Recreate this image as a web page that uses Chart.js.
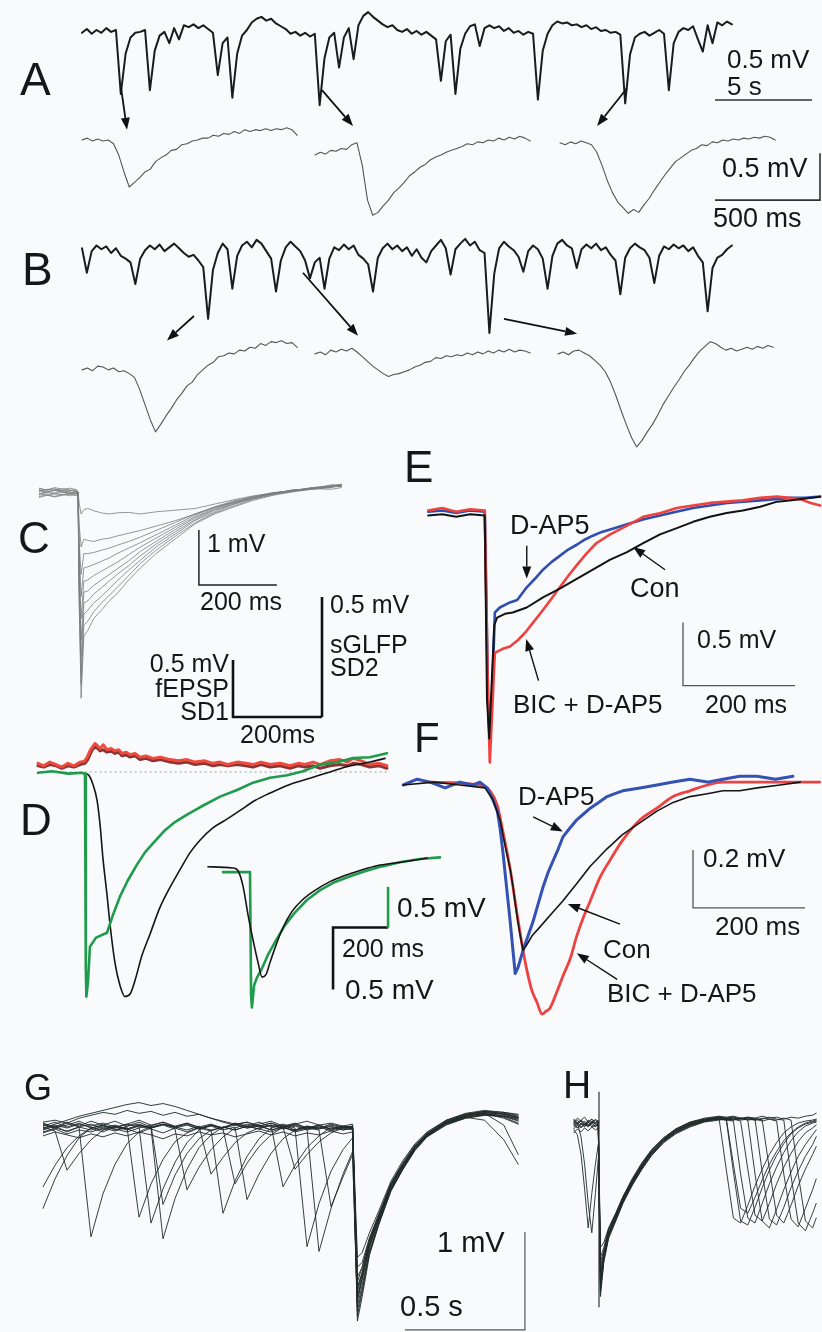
<!DOCTYPE html>
<html>
<head>
<meta charset="utf-8">
<script src="https://cdn.jsdelivr.net/npm/chart.js@4.4.1/dist/chart.umd.min.js"></script>
<style>
  html, body { margin: 0; padding: 0; background: #f8fafc; }
  #wrap { position: relative; width: 822px; height: 1332px; overflow: hidden; }
  #c { position: absolute; left: 0; top: 0; }
  .t { position: absolute; font-family: "Liberation Sans", Arial, sans-serif; color: #161616; line-height: 1; white-space: nowrap; }
</style>
</head>
<body>
<div id="wrap"><canvas id="c" width="822" height="1332"></canvas></div>
<script>
var W = 822, H = 1332;

// ---- A / B : long recordings (s, mV) sampled every 0.25 s ----
var topStep = 0.25;
var aTop = [-0.03,0.01,-0.04,0.00,-0.03,0.02,-0.02,0.00,
  -0.68,-0.25,-0.08,-0.03,-0.02,0.00,
  -0.64,-0.22,-0.06,-0.02,
  -0.14,0.02,-0.10,0.05,0.03,0.06,0.02,0.05,0.01,-0.03,
  -0.48,-0.14,-0.08,-0.72,-0.25,-0.06,0.00,0.08,0.12,0.14,0.10,0.12,0.07,0.04,0.01,-0.04,-0.02,-0.06,-0.03,-0.07,-0.04,
  -0.80,-0.30,-0.08,-0.03,-0.40,-0.08,0.02,-0.31,0.05,0.15,0.19,0.14,0.10,0.06,0.03,0.05,0.00,-0.02,0.01,-0.04,-0.01,-0.05,-0.02,-0.06,-0.10,
  -0.54,-0.12,-0.05,-0.68,-0.20,-0.04,0.04,0.06,-0.17,0.02,0.05,0.02,0.04,-0.01,0.02,-0.03,-0.01,-0.05,-0.02,-0.04,
  -0.74,-0.22,-0.04,0.05,0.09,0.07,0.08,0.05,0.06,0.03,0.05,0.01,0.03,-0.01,0.00,-0.03,-0.02,-0.05,
  -0.78,-0.26,-0.08,-0.04,-0.02,-0.06,-0.03,0.00,-0.04,
  -0.64,-0.14,-0.02,0.02,0.00,0.04,-0.10,-0.23,0.05,-0.14,0.08,0.05,0.09,0.06];
var bTop = [0.05,-0.21,0.02,0.08,0.04,0.07,0.00,0.05,-0.03,-0.06,-0.10,
  -0.33,-0.06,0.03,0.08,0.04,0.09,0.02,0.06,0.10,0.05,
  0.00,-0.04,-0.02,-0.08,-0.15,-0.70,-0.18,0.00,0.10,0.04,
  -0.38,-0.03,0.08,0.12,0.06,0.14,0.10,0.02,-0.06,-0.41,
  -0.08,0.06,0.12,0.07,0.02,-0.08,-0.27,-0.10,-0.05,-0.38,
  -0.06,0.06,0.03,0.09,0.04,0.08,-0.02,-0.06,-0.12,-0.41,
  -0.05,0.05,0.10,0.04,0.08,0.02,0.06,-0.03,0.04,-0.05,
  -0.10,0.02,0.08,0.14,0.05,-0.23,0.04,0.10,0.15,0.08,
  0.12,0.03,0.00,-0.85,-0.22,0.05,0.12,0.07,0.03,-0.04,
  -0.20,0.02,0.08,0.04,-0.06,-0.38,-0.03,0.10,0.14,0.08,
  0.05,-0.16,0.04,0.09,0.05,0.10,0.03,0.06,-0.02,-0.08,
  -0.44,-0.05,0.05,0.10,0.06,0.03,-0.05,-0.32,-0.03,0.07,
  0.04,0.09,0.05,0.08,0.02,0.06,-0.03,-0.10,-0.62,-0.16,
  -0.05,-0.02,0.04,0.08];

// zoomed single events (ms, mV) sampled every 25 ms
var lowStep = 25;
var aLow1 = [0.00,0.02,-0.01,0.01,-0.01,0.00,-0.04,-0.16,-0.34,-0.50,-0.45,-0.40,-0.34,-0.31,-0.23,-0.19,-0.16,-0.11,-0.10,-0.05,-0.04,-0.01,0.00,0.02,0.02,0.05,0.04,0.07,0.06,0.09,0.07,0.11,0.09,0.11,0.10,0.12,0.10,0.12,0.11,0.13,0.11,0.05];
var aLow2 = [-0.16,-0.13,-0.15,-0.11,-0.12,-0.09,-0.10,-0.05,-0.03,-0.27,-0.64,-0.80,-0.77,-0.70,-0.64,-0.56,-0.51,-0.45,-0.38,-0.34,-0.29,-0.26,-0.21,-0.18,-0.16,-0.13,-0.11,-0.09,-0.07,-0.04,-0.05,-0.02,-0.03,0.00,-0.01,0.02,0.00,0.03,0.01,0.04,0.02,-0.01];
var aLow3 = [-0.03,-0.05,-0.02,-0.04,-0.01,-0.03,-0.05,-0.13,-0.27,-0.43,-0.56,-0.66,-0.72,-0.78,-0.74,-0.77,-0.69,-0.62,-0.53,-0.45,-0.37,-0.30,-0.23,-0.19,-0.15,-0.11,-0.09,-0.05,-0.06,-0.02,-0.03,0.00,-0.01,0.01,0.00,0.02,0.01,0.03,0.02,0.04,0.03,0.00];
var bLow1 = [-0.19,-0.17,-0.20,-0.15,-0.16,-0.19,-0.17,-0.21,-0.20,-0.23,-0.27,-0.40,-0.56,-0.72,-0.85,-0.77,-0.68,-0.60,-0.51,-0.44,-0.36,-0.32,-0.24,-0.19,-0.14,-0.11,-0.05,-0.04,-0.01,-0.02,0.02,0.01,0.05,0.04,0.09,0.07,0.11,0.10,0.12,0.09,0.10,0.05];
var bLow2 = [-0.02,0.00,-0.03,0.02,0.00,0.03,0.01,0.04,0.00,-0.05,-0.10,-0.15,-0.19,-0.23,-0.26,-0.24,-0.23,-0.21,-0.19,-0.16,-0.14,-0.11,-0.10,-0.06,-0.07,-0.04,-0.05,-0.03,-0.04,-0.01,-0.03,0.00,-0.02,0.01,-0.01,0.02,0.00,0.03,0.00,0.02,0.01,-0.01];
var bLow3 = [-0.02,0.00,-0.03,0.01,0.02,-0.01,-0.04,-0.09,-0.14,-0.21,-0.32,-0.46,-0.62,-0.77,-0.91,-1.01,-0.94,-0.85,-0.77,-0.67,-0.56,-0.47,-0.38,-0.30,-0.21,-0.14,-0.06,0.01,0.06,0.11,0.09,0.05,0.02,0.04,0.01,0.03,0.05,0.03,0.06,0.04,0.07,0.05];

// ---- C : evoked responses of growing size (ms, mV) ----
var cTime = [-100,-80,-60,-40,-20,-5,0,3,8,15,25,40,60,80,100,130,160,200,250,300,350,400,450,500,550,600,650,675];
var c01 = [0.03,-0.02,0.05,0.01,-0.03,0.02,0,-0.2,-0.40,-0.32,-0.30,-0.34,-0.38,-0.40,-0.38,-0.37,-0.40,-0.36,-0.33,-0.30,-0.22,-0.14,-0.07,-0.02,0.03,0.06,0.05,0.08];
var c02 = [-0.04,0.02,-0.02,0.03,0.00,-0.02,0,-0.6,-1.0,-0.86,-0.88,-0.90,-0.86,-0.84,-0.80,-0.75,-0.70,-0.62,-0.52,-0.40,-0.28,-0.18,-0.10,-0.03,0.02,0.05,0.08,0.12];
var c03 = [0.06,0.04,0.08,0.05,0.07,0.04,0,-0.9,-1.5,-1.12,-1.12,-1.10,-1.06,-1.02,-0.97,-0.90,-0.82,-0.70,-0.55,-0.40,-0.27,-0.16,-0.08,-0.01,0.02,0.08,0.11,0.10];
var c04 = [-0.08,-0.05,-0.09,-0.06,-0.04,-0.07,0,-1.1,-1.9,-1.38,-1.36,-1.32,-1.26,-1.20,-1.12,-1.02,-0.92,-0.78,-0.60,-0.42,-0.28,-0.18,-0.10,-0.02,0.03,0.07,0.09,0.14];
var c05 = [0.01,0.05,0.02,0.06,0.03,0.01,0,-1.3,-2.3,-1.62,-1.60,-1.52,-1.44,-1.36,-1.28,-1.14,-1.00,-0.84,-0.64,-0.45,-0.30,-0.19,-0.09,-0.03,0.04,0.06,0.13,0.12];
var c06 = [-0.10,-0.06,-0.08,-0.04,-0.07,-0.03,0,-1.5,-2.7,-1.82,-1.80,-1.70,-1.60,-1.50,-1.40,-1.25,-1.08,-0.90,-0.68,-0.47,-0.32,-0.20,-0.11,-0.02,0.02,0.08,0.10,0.11];
var c07 = [0.04,0.00,0.03,-0.01,0.02,0.05,0,-1.6,-3.0,-2.02,-1.98,-1.86,-1.74,-1.62,-1.50,-1.34,-1.16,-0.95,-0.72,-0.50,-0.33,-0.22,-0.10,-0.03,0.03,0.05,0.12,0.14];
var c08 = [-0.02,-0.06,-0.03,-0.05,-0.01,-0.04,0,-1.7,-3.3,-2.22,-2.15,-2.02,-1.90,-1.76,-1.62,-1.42,-1.24,-1.00,-0.76,-0.52,-0.36,-0.22,-0.12,-0.04,0.01,0.07,0.11,0.10];
var c09 = [0.07,0.03,0.06,0.02,0.04,0.01,0,-1.9,-3.5,-2.42,-2.35,-2.18,-2.02,-1.88,-1.74,-1.52,-1.30,-1.06,-0.80,-0.56,-0.38,-0.25,-0.13,-0.05,0.02,0.06,0.09,0.13];
var c10 = [-0.05,-0.01,-0.04,0.00,-0.03,-0.01,0,-2.0,-3.75,-2.62,-2.52,-2.30,-2.15,-1.98,-1.85,-1.60,-1.38,-1.12,-0.85,-0.58,-0.40,-0.27,-0.15,-0.06,0.00,0.05,0.10,0.12];

// ---- D : fEPSP (green), sGLFP (black), SD traces (red) ----
var dRedT = [-171,-150,-128,-105,-84,-62,-40,-18,0,10,18,27,36,46,55,66,80,95,109,122,135,150,164,182,200,222,247,275,309,340,371,400,436,465,491,520,553,585,611,640,673,710,745,775,800,830,855,890,927,955,975,1005,1036,1070,1098];
var dRed = [0.07,0.05,0.08,0.06,0.04,0.07,0.05,0.08,0.09,0.13,0.17,0.20,0.23,0.21,0.19,0.22,0.18,0.19,0.17,0.18,0.15,0.16,0.14,0.15,0.12,0.13,0.11,0.12,0.10,0.09,0.10,0.08,0.09,0.07,0.08,0.06,0.08,0.07,0.06,0.08,0.06,0.07,0.05,0.07,0.06,0.08,0.06,0.09,0.10,0.08,0.11,0.09,0.06,0.07,0.05];
var dRedDark = [0.05,0.04,0.06,0.05,0.03,0.05,0.04,0.06,0.07,0.10,0.14,0.18,0.20,0.19,0.17,0.18,0.16,0.17,0.15,0.16,0.13,0.14,0.12,0.13,0.10,0.11,0.09,0.10,0.08,0.07,0.08,0.06,0.07,0.05,0.06,0.05,0.06,0.05,0.04,0.06,0.04,0.05,0.03,0.05,0.04,0.05,0.03,0.05,0.06,0.05,0.07,0.06,0.04,0.05,0.03];
var dGreenT = [-171,-120,-60,-11,0,3,5,11,18,40,80,102,127,156,189,218,247,291,327,371,418,491,553,611,673,735,793,855,916,975,1036,1098];
var dGreen = [-0.01,0.01,-0.02,-0.01,-0.02,-2.40,-2.74,-2.55,-2.13,-2.02,-1.96,-1.74,-1.52,-1.32,-1.13,-0.98,-0.87,-0.71,-0.61,-0.52,-0.43,-0.30,-0.22,-0.13,-0.07,-0.04,0.01,0.09,0.12,0.17,0.18,0.23];
var dBlackT = [-11,11,29,44,55,65,80,91,109,127,145,164,182,207,236,273,309,345,382,418,465,509,564,618,673,745,818,891,964,1036,1091];
var dBlack = [-0.01,-0.02,-0.10,-0.23,-0.43,-0.69,-0.99,-1.23,-1.54,-1.72,-1.81,-1.79,-1.68,-1.48,-1.31,-1.09,-0.93,-0.79,-0.65,-0.55,-0.45,-0.39,-0.31,-0.23,-0.17,-0.10,-0.05,0.00,0.05,0.08,0.11];
var dInsetT = [-153,-62,-44,-25,-7,11,29,44,58,73,95,120,153,189,236,291,345,400,465,527,589,644];
var dInsetBlack = [0.01,0.00,-0.02,-0.15,-0.38,-0.58,-0.76,-0.88,-0.86,-0.76,-0.62,-0.48,-0.35,-0.26,-0.18,-0.11,-0.06,-0.02,0.02,0.04,0.06,0.08];
var dInsetGT = [-98,-7,0,4,7,15,25,44,65,95,127,164,207,255,309,364,418,480,545,618,691];
var dInsetGreen = [-0.05,-0.05,-0.05,-1.56,-1.70,-1.43,-1.34,-1.22,-1.06,-0.88,-0.70,-0.54,-0.39,-0.27,-0.17,-0.10,-0.04,0.02,0.07,0.11,0.13];

// ---- E : fEPSP, Con / D-AP5 / BIC + D-AP5 ----
var eRedT = [-105,-80,-55,-30,-4,2,5,11,14,27,41,55,68,84,100,115,130,145,161,178,195,220,250,279,310,339,368,398,428,457,488,518,540,559,578,595];
var eRed = [0.02,0.04,0.01,0.03,0.02,-1.49,-1.98,-1.40,-1.11,-1.08,-1.06,-1.01,-0.95,-0.86,-0.77,-0.68,-0.59,-0.50,-0.41,-0.32,-0.24,-0.17,-0.10,-0.03,0.00,0.04,0.06,0.08,0.09,0.10,0.12,0.13,0.12,0.11,0.08,0.06];
var eBlueT = [-105,-80,-55,-30,-4,2,5,9,14,23,41,54,71,86,100,115,130,145,161,175,189,205,220,250,280,309,338,368,398,429,458,488,515,541,568,595];
var eBlue = [0.01,0.02,0.00,0.02,0.01,-1.48,-1.84,-1.48,-0.79,-0.75,-0.71,-0.69,-0.59,-0.52,-0.45,-0.39,-0.34,-0.29,-0.25,-0.21,-0.18,-0.15,-0.13,-0.09,-0.05,-0.02,0.01,0.04,0.06,0.08,0.09,0.10,0.11,0.12,0.12,0.13];
var eConT = [-105,-80,-55,-30,-4,0,4,7,13,18,32,46,71,100,130,161,189,220,250,279,309,339,368,398,428,457,488,518,540,559,578,595];
var eCon = [-0.02,-0.01,-0.03,-0.01,-0.02,-1.48,-1.79,-1.48,-0.89,-0.83,-0.80,-0.79,-0.75,-0.67,-0.60,-0.52,-0.45,-0.37,-0.31,-0.24,-0.17,-0.12,-0.07,-0.03,0.00,0.02,0.05,0.09,0.10,0.11,0.12,0.13];

// ---- F : sGLFP, same three conditions ----
var fBlueT = [-155,-130,-107,-80,-54,-30,-18,-5,5,13,18,23,30,36,41,45,50,59,68,77,86,95,104,113,122,130,142,155,167,179,194,209,223,237,268,298,327,357,388,416,446,477,510,541];
var fBlue = [0.00,0.02,0.01,-0.01,0.01,0.00,0.01,-0.01,-0.05,-0.09,-0.15,-0.23,-0.36,-0.47,-0.57,-0.65,-0.63,-0.57,-0.52,-0.47,-0.41,-0.35,-0.30,-0.26,-0.22,-0.18,-0.15,-0.12,-0.10,-0.08,-0.06,-0.04,-0.03,-0.02,-0.01,0.00,0.01,0.02,0.01,0.02,0.03,0.03,0.02,0.03];
var fConT = [-155,-100,-54,-9,5,18,27,36,41,48,54,59,66,75,89,107,130,155,179,209,237,268,298,327,357,388,416,446,477,518,554];
var fCon = [0.00,0.01,0.00,-0.01,-0.05,-0.12,-0.21,-0.29,-0.35,-0.45,-0.52,-0.57,-0.55,-0.52,-0.49,-0.45,-0.40,-0.34,-0.28,-0.22,-0.17,-0.13,-0.09,-0.06,-0.04,-0.03,-0.02,-0.02,-0.01,0.00,0.01];
var fBicT = [-107,-18,0,13,23,36,48,59,66,75,84,93,100,107,120,130,143,155,166,179,196,214,237,268,298,327,357,388,416,477,536,589];
var fBic = [0.01,0.00,-0.02,-0.07,-0.16,-0.29,-0.44,-0.57,-0.64,-0.71,-0.75,-0.79,-0.78,-0.77,-0.71,-0.66,-0.60,-0.52,-0.46,-0.40,-0.32,-0.26,-0.19,-0.12,-0.08,-0.04,-0.02,0.00,0.01,0.01,0.01,0.01];

// ---- G : sweeps aligned on a large event (s, mV) ----
var tG = [-1.30,-1.25,-1.20,-1.15,-1.10,-1.05,-1.00,-0.95,-0.90,-0.85,-0.80,-0.75,-0.70,-0.65,-0.60,-0.55,-0.50,-0.45,-0.40,-0.35,-0.30,-0.25,-0.20,-0.15,-0.10,-0.05,-0.01,0.01,0.03,0.06,0.10,0.15,0.20,0.25,0.30,0.38,0.46,0.54,0.62,0.68];
var g01 = [-0.80,-0.50,-0.26,-0.08,0.02,0.05,0.00,0.04,0.08,0.03,0.06,0.02,-0.02,0.03,0.00,-0.85,-0.52,-0.27,-0.09,0.02,0.05,0.00,0.04,0.02,0.06,0.03,0.04,-1.75,-1.52,-1.20,-0.90,-0.58,-0.36,-0.18,-0.05,0.08,0.15,0.18,0.14,0.10];
var g02 = [0.05,0.02,0.07,0.03,-1.09,-0.65,-0.35,-0.14,-0.02,0.04,0.08,0.03,0.06,0.01,0.05,0.02,0.07,0.03,0.06,0.09,0.04,0.07,0.02,0.05,0.01,0.04,0.02,-1.95,-1.70,-1.28,-0.96,-0.62,-0.40,-0.20,-0.07,0.06,0.13,0.16,0.17,0.13];
var g03 = [0.00,0.04,-0.02,0.03,0.06,0.02,0.05,0.01,-0.03,0.02,-1.11,-0.70,-0.40,-0.18,-0.05,0.03,0.06,0.02,0.05,0.00,0.03,-0.02,0.01,-1.24,-0.80,-0.45,-0.22,-1.85,-1.62,-1.25,-0.95,-0.60,-0.38,-0.19,-0.06,0.07,0.14,0.17,0.12,0.06];
var g04 = [0.07,0.03,0.08,0.04,0.09,0.05,0.02,0.06,0.03,-0.95,-0.60,-0.33,-0.13,0.00,0.05,0.02,0.07,0.04,0.08,0.03,0.06,0.02,-1.19,-0.75,-0.42,-0.20,-0.08,-1.60,-1.45,-1.15,-0.88,-0.55,-0.35,-0.16,-0.04,0.09,0.16,0.19,0.16,0.12];
var g05 = [-0.03,0.01,-0.04,0.00,-0.02,0.02,-0.01,0.03,-0.89,-0.55,-0.30,-0.12,-0.03,0.02,-0.01,0.03,0.00,0.04,0.01,-0.02,0.02,0.05,0.01,0.04,0.00,0.03,0.01,-1.40,-1.35,-1.10,-0.85,-0.55,-0.34,-0.17,-0.05,0.07,0.13,0.15,0.14,0.09];
var g06 = [-0.58,-0.36,-0.18,-0.06,0.02,-0.02,0.03,0.00,0.04,0.01,-0.03,0.02,0.05,0.01,0.04,0.00,0.03,-0.71,-0.45,-0.24,-0.09,0.00,0.04,0.01,0.05,0.02,0.03,-1.70,-1.50,-1.18,-0.92,-0.60,-0.39,-0.20,-0.06,0.06,0.12,0.16,0.15,0.11];
var g07 = [0.04,0.08,0.03,0.07,0.02,0.05,0.09,0.04,0.06,0.02,0.05,0.01,-0.61,-0.38,-0.20,-0.07,0.02,0.06,0.03,0.05,-0.58,-0.36,-0.18,-0.06,0.03,0.00,0.02,-1.55,-1.40,-1.12,-0.86,-0.54,-0.33,-0.15,-0.03,0.10,0.17,0.20,0.18,0.15];
var g08 = [0.02,0.06,0.10,0.14,0.17,0.20,0.23,0.26,0.28,0.25,0.27,0.24,0.20,0.16,0.12,0.08,0.05,0.02,0.04,0.00,0.03,-0.01,0.02,0.00,-0.78,-0.48,-0.25,-1.80,-1.58,-1.24,-0.94,-0.61,-0.39,-0.19,-0.06,0.07,0.14,0.18,0.16,0.13];
var g09 = [0.03,-0.01,-0.41,-0.24,-0.10,0.00,0.04,0.01,0.05,0.02,0.06,0.03,0.07,0.02,0.05,0.01,-0.55,-0.34,-0.17,-0.05,0.03,0.06,0.02,0.05,0.01,0.04,0.02,-1.65,-1.48,-1.16,-0.90,-0.57,-0.36,-0.17,-0.04,0.08,0.15,0.17,0.13,0.07];
var g10 = [0.06,0.02,0.05,0.09,0.04,0.07,0.03,0.06,0.10,0.05,0.08,0.04,0.07,0.03,0.06,0.02,0.05,0.08,0.04,0.07,0.03,0.06,0.09,0.05,0.07,0.04,0.06,-1.30,-1.25,-1.05,-0.82,-0.52,-0.31,-0.14,-0.02,0.10,0.16,0.19,0.17,0.14];
var g11 = [-0.02,0.02,-0.01,0.03,0.00,0.04,0.01,-0.02,0.02,0.05,-0.76,-0.46,-0.24,-0.09,0.00,0.03,0.00,0.04,0.01,0.05,0.02,0.00,0.03,0.01,0.04,0.00,0.02,-1.90,-1.65,-1.26,-0.95,-0.62,-0.40,-0.21,-0.07,0.05,0.12,0.15,0.14,0.12];
var g12 = [0.01,0.05,0.02,0.06,0.03,0.00,0.04,0.01,0.05,0.02,0.06,0.03,0.00,0.04,-0.45,-0.28,-0.13,-0.03,0.02,0.05,0.01,0.04,0.00,0.03,-0.01,0.02,0.00,-1.72,-1.52,-1.20,-0.91,-0.59,-0.37,-0.18,-0.05,0.07,0.13,0.10,-0.10,-0.35];
var g13 = [-0.06,-0.02,-0.05,-0.08,-0.04,-0.07,-0.03,-0.06,-0.02,-0.05,-0.09,-0.04,-0.06,-0.02,-0.05,-0.03,-0.07,-0.04,-0.01,-0.05,-0.02,-0.06,-0.03,-0.05,-0.01,-0.04,-0.02,-1.50,-1.40,-1.12,-0.87,-0.56,-0.35,-0.17,-0.05,0.08,0.14,0.17,0.05,-0.25];
var g14 = [0.08,0.10,0.07,0.12,0.15,0.18,0.16,0.20,0.17,0.19,0.15,0.18,0.14,0.16,0.12,0.09,0.06,0.08,0.04,0.07,0.03,-0.40,-0.25,-0.12,-0.03,0.02,0.04,-1.62,-1.46,-1.14,-0.89,-0.57,-0.36,-0.17,-0.04,0.09,0.16,0.19,0.18,0.16];

// ---- H : sweeps aligned on the stimulus (s, mV) ----
var tH = [-0.105,-0.09,-0.075,-0.06,-0.045,-0.03,-0.015,-0.003,0.006,0.02,0.04,0.07,0.10,0.14,0.18,0.22,0.27,0.32,0.38,0.44,0.50,0.53,0.56,0.59,0.62,0.65,0.68,0.71,0.74,0.77,0.80,0.83,0.86,0.89,0.905];
var h01 = [0.02,-0.03,0.01,-0.02,0.03,0.00,-0.02,0.01,-1.70,-1.38,-1.14,-0.96,-0.78,-0.59,-0.43,-0.29,-0.16,-0.07,0.00,0.05,0.07,-0.45,-0.95,-1.00,-0.82,-0.62,-0.45,-0.30,-0.18,-0.08,-0.02,0.02,0.04,0.05,0.06];
var h02 = [0.04,0.00,0.05,0.02,-0.01,0.03,0.01,0.04,-1.55,-1.32,-1.10,-0.93,-0.75,-0.56,-0.40,-0.26,-0.14,-0.05,0.02,0.06,0.08,0.06,-0.48,-0.98,-1.02,-0.84,-0.64,-0.46,-0.31,-0.19,-0.09,-0.03,0.01,0.03,0.04];
var h03 = [-0.05,-0.10,-0.30,-0.65,-1.05,-0.70,-0.40,-0.20,-1.45,-1.30,-1.08,-0.92,-0.76,-0.57,-0.41,-0.27,-0.15,-0.06,0.01,0.04,0.06,0.05,0.04,-0.50,-0.95,-1.00,-0.80,-0.60,-0.43,-0.28,-0.16,-0.07,-0.01,0.02,0.03];
var h04 = [0.00,0.03,-0.02,0.02,-0.01,0.04,0.01,-0.01,-1.62,-1.36,-1.13,-0.97,-0.79,-0.60,-0.44,-0.30,-0.17,-0.08,-0.01,0.04,0.06,0.07,0.06,0.07,0.05,-0.50,-0.98,-1.05,-0.86,-0.66,-0.48,-0.32,-0.20,-0.10,-0.05];
var h05 = [0.06,0.02,0.05,0.08,0.03,0.06,0.02,0.05,-1.25,-1.20,-1.05,-0.90,-0.73,-0.55,-0.39,-0.25,-0.13,-0.04,0.03,0.07,0.09,0.08,0.09,0.07,0.08,0.06,-0.48,-0.96,-1.02,-0.84,-0.64,-0.47,-0.32,-0.20,-0.12];
var h06 = [-0.08,-0.04,-0.07,-0.03,-0.06,-0.02,-0.05,-0.03,-1.75,-1.40,-1.16,-0.98,-0.80,-0.61,-0.45,-0.31,-0.18,-0.09,-0.02,0.03,0.05,0.06,0.05,0.07,0.06,0.05,0.07,0.06,0.04,-0.50,-0.96,-1.04,-0.85,-0.66,-0.55];
var h07 = [0.03,0.07,0.04,0.00,0.05,0.02,0.06,0.03,-1.50,-1.33,-1.11,-0.94,-0.76,-0.57,-0.42,-0.28,-0.15,-0.06,0.01,0.05,0.08,0.07,0.08,0.06,0.07,0.05,0.06,0.08,0.06,0.05,-0.52,-1.00,-1.08,-0.90,-0.80];
var h08 = [-0.02,0.02,-0.12,-0.40,-0.80,-1.10,-0.70,-0.35,-1.60,-1.35,-1.12,-0.95,-0.77,-0.58,-0.42,-0.28,-0.16,-0.07,0.00,0.04,0.06,0.05,0.06,0.04,-0.45,-0.92,-0.98,-0.80,-0.60,-0.43,-0.29,-0.17,-0.08,-0.03,0.00];
var h09 = [0.01,-0.03,0.02,-0.01,0.03,-0.02,0.00,0.02,-1.40,-1.28,-1.07,-0.91,-0.74,-0.56,-0.40,-0.26,-0.14,-0.05,0.02,0.06,0.08,0.07,0.08,0.06,0.08,0.07,0.09,0.07,0.08,0.06,0.08,0.07,0.09,0.10,0.12];
var h10 = [0.05,0.01,0.04,0.00,0.03,0.06,0.02,0.04,-1.68,-1.37,-1.13,-0.96,-0.78,-0.60,-0.44,-0.30,-0.17,-0.08,-0.01,0.04,0.06,0.06,0.05,0.07,0.05,0.06,0.04,0.06,0.05,0.07,0.05,-0.50,-0.98,-1.05,-0.95];
var h11 = [-0.04,0.00,-0.03,0.01,-0.02,0.02,-0.01,0.00,-1.35,-1.25,-1.06,-0.90,-0.73,-0.54,-0.38,-0.25,-0.13,-0.04,0.03,0.06,0.08,0.07,-0.40,-0.85,-0.90,-0.74,-0.56,-0.40,-0.27,-0.16,-0.08,-0.02,0.02,0.04,0.05];
var h12 = [0.02,0.05,0.01,0.04,0.00,0.03,0.05,0.02,-1.58,-1.34,-1.11,-0.94,-0.77,-0.58,-0.42,-0.28,-0.15,-0.06,0.01,0.05,0.07,0.06,0.07,0.05,0.06,0.07,0.05,-0.45,-0.92,-1.00,-0.82,-0.62,-0.45,-0.30,-0.22];

// ---- layout: each axis = [direction, pixel of the zero value, pixels per unit] ----
var AXES = {
  xAt: ['x', 82, 19.4],  yAt: ['y', 30, 94],
  xA1: ['x', 82, 0.21],  xA2: ['x', 315, 0.21], xA3: ['x', 560, 0.21], yAl: ['y', 140, 94],
  xBt: ['x', 82, 19.4],  yBt: ['y', 253, 94],
  xB1: ['x', 82, 0.21],  xB2: ['x', 315, 0.21], xB3: ['x', 558, 0.21], yBl: ['y', 352, 94],
  xC:  ['x', 78, 0.39],  yC:  ['y', 492, 55],
  xS:  ['x', 233, 0.445], yS1: ['y', 717, 114], yS2: ['y', 717, 240],
  xD:  ['x', 85, 0.275], yD:  ['y', 772, 124], yDG: ['y', 772, 82],
  xDi: ['x', 250, 0.275], yDi: ['y', 868, 124], yDiG: ['y', 868, 82],
  xE:  ['x', 487, 0.56], yE:  ['y', 513, 126],
  xF:  ['x', 490, 0.56], yF:  ['y', 785, 290],
  xG:  ['x', 355, 240],  yG:  ['y', 1130, 98],
  xH:  ['x', 599, 240],  yH:  ['y', 1125, 98]
};

// scale bars, in the units of the axes they sit on
var BARS = [
  { x: 'xAt', y: 'yAt', t: [32.63, 37.63], v: [-0.745, -0.745], c: '#333', w: 1.6 },
  { x: 'xA3', y: 'yAl', t: [738, 1238, 1238], v: [-0.64, -0.64, -0.14], c: '#333', w: 1.6 },
  { x: 'xC', y: 'yC', t: [310, 310, 510], v: [-0.69, -1.69, -1.69], c: '#222', w: 1.5 },
  { x: 'xS', y: 'yS1', t: [0, 0, 200], v: [0.5, 0, 0], c: '#111', w: 2.6 },
  { x: 'xS', y: 'yS2', t: [200, 200], v: [0, 0.5], c: '#111', w: 2.6 },
  { x: 'xDi', y: 'yDi', t: [302, 302, 502], v: [-0.98, -0.48, -0.48], c: '#111', w: 2.6 },
  { x: 'xDi', y: 'yDiG', t: [502, 502], v: [-0.73, -0.23], c: '#1f9b4c', w: 2.6 },
  { x: 'xE', y: 'yE', t: [350, 350, 550], v: [-0.87, -1.37, -1.37], c: '#555', w: 1.3 },
  { x: 'xF', y: 'yF', t: [362.5, 362.5, 562.5], v: [-0.224, -0.424, -0.424], c: '#555', w: 1.3 },
  { x: 'xG', y: 'yG', t: [0.208, 0.708, 0.708], v: [-2.04, -2.04, -1.04], c: '#555', w: 1.2 },
  { x: 'xH', y: 'yH', t: [0, 0], v: [0.34, -1.86], c: '#333', w: 1.2 }
];

var ARROWS = [
  { x: 'xAt', y: 'yAt', from: [2.01, -0.61], to: [2.32, -1.06], w: 1.8 },
  { x: 'xAt', y: 'yAt', from: [12.37, -0.64], to: [13.97, -1.02], w: 1.8 },
  { x: 'xAt', y: 'yAt', from: [28.09, -0.62], to: [26.55, -1.02], w: 1.8 },
  { x: 'xBt', y: 'yBt', from: [5.77, -0.67], to: [4.38, -0.93], w: 1.8 },
  { x: 'xBt', y: 'yBt', from: [11.39, -0.21], to: [14.23, -0.88], w: 1.8 },
  { x: 'xBt', y: 'yBt', from: [21.75, -0.70], to: [25.52, -0.86], w: 1.8 },
  { x: 'xE', y: 'yE', from: [71, -0.26], to: [71, -0.52], w: 1.4 },
  { x: 'xE', y: 'yE', from: [318, -0.45], to: [261, -0.27], w: 1.4 },
  { x: 'xE', y: 'yE', from: [92, -1.33], to: [70, -1.00], w: 1.4 },
  { x: 'xF', y: 'yF', from: [77, -0.11], to: [130, -0.16], w: 1.4 },
  { x: 'xF', y: 'yF', from: [232, -0.48], to: [139, -0.41], w: 1.4 },
  { x: 'xF', y: 'yF', from: [227, -0.67], to: [155, -0.58], w: 1.4 }
];

// [text, x, baseline, size, align]
var LABELS = [
  ['A', 20, 95, 46], ['0.5 mV', 727, 68, 26], ['5 s', 727, 95, 26], ['0.5 mV', 722, 178, 27], ['500 ms', 713, 228, 27],
  ['B', 22, 285, 46],
  ['C', 18, 553, 44], ['1 mV', 207, 552, 25], ['200 ms', 200, 610, 25],
  ['0.5 mV', 229, 672, 25, 'r'], ['fEPSP', 229, 697, 25, 'r'], ['SD1', 229, 720, 25, 'r'], ['200ms', 240, 743, 25],
  ['0.5 mV', 330, 613, 25], ['sGLFP', 330, 653, 25], ['SD2', 330, 676, 25],
  ['D', 20, 835, 44], ['0.5 mV', 397, 918, 28], ['200 ms', 342, 957, 25], ['0.5 mV', 345, 1000, 28],
  ['E', 404, 482, 44], ['D-AP5', 510, 535, 27], ['Con', 630, 598, 27], ['BIC + D-AP5', 513, 713, 26], ['0.5 mV', 697, 648, 25], ['200 ms', 705, 713, 25],
  ['F', 414, 753, 42], ['D-AP5', 518, 805, 26], ['Con', 603, 958, 26], ['BIC + D-AP5', 607, 1002, 26], ['0.2 mV', 703, 867, 26], ['200 ms', 715, 935, 26],
  ['G', 24, 1100, 36], ['1 mV', 437, 1253, 29], ['0.5 s', 400, 1317, 29],
  ['H', 563, 1098, 39]
];

function grid(n, dt) {
  var out = [];
  for (var i = 0; i < n; i++) out.push(i * dt);
  return out;
}

function series(xid, yid, t, v, color, width, extra) {
  var ds = {
    data: t.map(function (x, i) { return { x: x, y: v[i] }; }),
    xAxisID: xid, yAxisID: yid,
    borderColor: color, borderWidth: width,
    pointRadius: 0, fill: false, tension: 0, clip: false,
    borderJoinStyle: 'round', borderCapStyle: 'round'
  };
  return Object.assign(ds, extra || {});
}

var scales = {};
Object.keys(AXES).forEach(function (id) {
  var a = AXES[id], o = a[1], k = a[2];
  if (a[0] === 'x') {
    scales[id] = { type: 'linear', axis: 'x', position: 'bottom', display: false, bounds: 'data', min: -o / k, max: (W - o) / k };
  } else {
    scales[id] = { type: 'linear', axis: 'y', position: 'left', display: false, bounds: 'data', min: (o - H) / k, max: o / k };
  }
});

// datasets listed bottom to top
var ds = [];
var ink = '#1b1b1b', grey = '#555', gInk = '#1f2a26';
var tTop = grid(aTop.length, topStep), tLow = grid(42, lowStep);

ds.push(series('xAt', 'yAt', tTop, aTop, ink, 2));
ds.push(series('xA1', 'yAl', tLow, aLow1, grey, 1.1));
ds.push(series('xA2', 'yAl', tLow, aLow2, grey, 1.1));
ds.push(series('xA3', 'yAl', tLow, aLow3, grey, 1.1));
ds.push(series('xBt', 'yBt', grid(bTop.length, topStep), bTop, ink, 2));
ds.push(series('xB1', 'yBl', tLow, bLow1, grey, 1.1));
ds.push(series('xB2', 'yBl', tLow, bLow2, grey, 1.1));
ds.push(series('xB3', 'yBl', tLow, bLow3, grey, 1.1));

[c01, c02, c03, c04, c05, c06, c07, c08, c09, c10].forEach(function (c) {
  ds.push(series('xC', 'yC', cTime, c, '#7c7c7c', 0.8));
});

ds.push(series('xD', 'yD', [-165, 1100], [0, 0], '#a0a0a0', 1.2, { borderDash: [2, 3], borderCapStyle: 'butt' }));
ds.push(series('xD', 'yD', dRedT, dRedDark, '#8a3434', 3));
ds.push(series('xD', 'yD', dRedT, dRed, '#f04a3e', 3));
ds.push(series('xD', 'yD', dBlackT, dBlack, '#151515', 1.6, { cubicInterpolationMode: 'monotone' }));
ds.push(series('xD', 'yDG', dGreenT, dGreen, '#1f9b4c', 2.6));
ds.push(series('xDi', 'yDiG', dInsetGT, dInsetGreen, '#1f9b4c', 2.6));
ds.push(series('xDi', 'yDi', dInsetT, dInsetBlack, '#151515', 1.6, { cubicInterpolationMode: 'monotone' }));

ds.push(series('xE', 'yE', eBlueT, eBlue, '#2f4fb0', 2.6));
ds.push(series('xE', 'yE', eRedT, eRed, '#f0413f', 2.6));
ds.push(series('xE', 'yE', eConT, eCon, '#121212', 2));

ds.push(series('xF', 'yF', fBicT, fBic, '#ee4242', 2.8, { cubicInterpolationMode: 'monotone' }));
ds.push(series('xF', 'yF', fBlueT, fBlue, '#3452b3', 3));
ds.push(series('xF', 'yF', fConT, fCon, '#151515', 1.6));

[g01, g02, g03, g04, g05, g06, g07, g08, g09, g10, g11, g12, g13, g14].forEach(function (g) {
  ds.push(series('xG', 'yG', tG, g, gInk, 0.9));
});
[h01, h02, h03, h04, h05, h06, h07, h08, h09, h10, h11, h12].forEach(function (h) {
  ds.push(series('xH', 'yH', tH, h, gInk, 0.9));
});

BARS.forEach(function (b) {
  ds.push(series(b.x, b.y, b.t, b.v, b.c, b.w, { borderCapStyle: 'butt', borderJoinStyle: 'miter' }));
});

// Chart.js paints dataset 0 last, so flip to keep the order above
ds.reverse();

var arrowPlugin = {
  id: 'arrows',
  afterDatasetsDraw: function (chart) {
    var ctx = chart.ctx;
    ARROWS.forEach(function (a) {
      var sx = chart.scales[a.x], sy = chart.scales[a.y];
      var x1 = sx.getPixelForValue(a.from[0]), y1 = sy.getPixelForValue(a.from[1]);
      var x2 = sx.getPixelForValue(a.to[0]), y2 = sy.getPixelForValue(a.to[1]);
      var ang = Math.atan2(y2 - y1, x2 - x1), head = 12, half = 4.5;
      var bx = x2 - head * Math.cos(ang), by = y2 - head * Math.sin(ang);
      ctx.save();
      ctx.strokeStyle = '#111';
      ctx.fillStyle = '#111';
      ctx.lineWidth = a.w;
      ctx.beginPath();
      ctx.moveTo(x1, y1);
      ctx.lineTo(bx, by);
      ctx.stroke();
      ctx.beginPath();
      ctx.moveTo(x2, y2);
      ctx.lineTo(bx + half * Math.sin(ang), by - half * Math.cos(ang));
      ctx.lineTo(bx - half * Math.sin(ang), by + half * Math.cos(ang));
      ctx.closePath();
      ctx.fill();
      ctx.restore();
    });
  }
};

new Chart(document.getElementById('c').getContext('2d'), {
  type: 'line',
  data: { datasets: ds },
  options: {
    responsive: false,
    animation: false,
    devicePixelRatio: 1,
    events: [],
    layout: { padding: 0 },
    plugins: { legend: { display: false }, tooltip: { enabled: false } },
    scales: scales
  },
  plugins: [arrowPlugin]
});

// text labels as real text
var wrap = document.getElementById('wrap');
LABELS.forEach(function (l) {
  var d = document.createElement('div');
  d.className = 't';
  d.textContent = l[0];
  d.style.fontSize = l[3] + 'px';
  d.style.top = (l[2] - 0.8465 * l[3]) + 'px';
  if (l[4] === 'r') d.style.right = (W - l[1]) + 'px';
  else d.style.left = l[1] + 'px';
  wrap.appendChild(d);
});
</script>
</body>
</html>
